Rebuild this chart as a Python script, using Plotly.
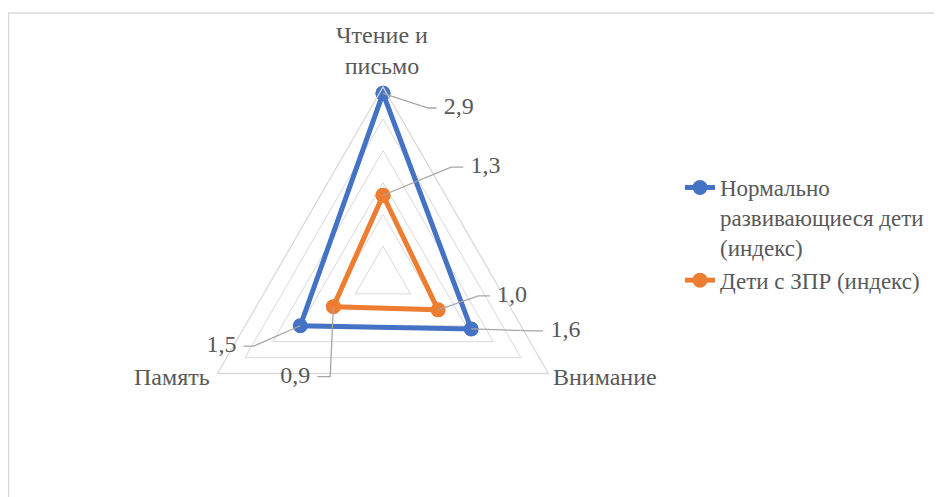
import math
import plotly.graph_objects as go

# ---- data ----
categories = ["Чтение и письмо", "Внимание", "Память"]
normal_vals = [2.9, 1.6, 1.5]
zpr_vals = [1.3, 1.0, 0.9]
series_names = ["Нормально<br>развивающиеся дети<br>(индекс)", "Дети с ЗПР (индекс)"]
radial_max = 3.0
radial_step = 0.5

# ---- style ----
W, H = 942, 497
OFF = 8  # page body margin offset of the rendered figure
FONT = "Liberation Serif"
TXT = "#595959"
GRID = "#d9d9d9"
LEAD = "#a6a6a6"
BLUE = "#4472C4"
ORANGE = "#ED7D31"
FS = 24
FS_LEG = 23

def px(x):
    return (x - OFF) / W

def py(y):
    return 1 - (y - OFF) / H

# polar domain (reference pixels)
cx, cy, R = 383.0, 278.0, 191.0
dom_x = [px(cx - R), px(cx + R)]
dom_y = [py(cy + R), py(cy - R)]

fig = go.Figure()

def closed(v):
    return list(v) + [v[0]]

for vals, name, col in [(normal_vals, series_names[0], BLUE), (zpr_vals, series_names[1], ORANGE)]:
    fig.add_trace(go.Scatterpolar(
        r=closed(vals), theta=closed(categories), mode="lines+markers", name=name,
        line=dict(color=col, width=5), marker=dict(color=col, size=15),
        subplot="polar", cliponaxis=False))

# leader lines + data labels, in an overlaid numeric polar
step_deg = 360.0 / len(categories)

def to_xy(v, idx):
    a = math.radians(idx * step_deg)
    return v * math.sin(a), v * math.cos(a)

def to_polar(x, y):
    return math.hypot(x, y), math.degrees(math.atan2(x, y)) % 360

# offsets (elbow, end) in radial units from data point; text side
leader_style = {
    ("n", 0): ([(0.71, -0.23), (0.84, -0.23)], "middle right"),
    ("n", 1): ([(1.00, -0.03), (1.13, -0.03)], "middle right"),
    ("n", 2): ([(-0.73, -0.32), (-0.89, -0.32)], "middle left"),
    ("z", 0): ([(1.07, 0.44), (1.26, 0.44)], "middle right"),
    ("z", 1): ([(0.63, 0.22), (0.81, 0.22)], "middle right"),
    ("z", 2): ([(-0.05, -1.10), (-0.25, -1.10)], "middle left"),
}

for key, vals in [("n", normal_vals), ("z", zpr_vals)]:
    for i, v in enumerate(vals):
        offs, tpos = leader_style[(key, i)]
        x0, y0 = to_xy(v, i)
        rs, ts = [], []
        for (dx, dy) in [(0, 0)] + offs:
            r_, t_ = to_polar(x0 + dx, y0 + dy)
            rs.append(r_)
            ts.append(t_)
        fig.add_trace(go.Scatterpolar(
            r=rs, theta=ts, mode="lines+markers+text",
            text=["", "", f"{v:.1f}".replace(".", ",")], textposition=tpos,
            textfont=dict(family=FONT, size=FS, color=TXT),
            line=dict(color=LEAD, width=1.3),
            marker=dict(size=10, color="rgba(0,0,0,0)"),
            showlegend=False, hoverinfo="skip", subplot="polar2", cliponaxis=False))

fig.update_layout(
    width=W, height=H,
    margin=dict(l=0, r=0, t=0, b=0),
    paper_bgcolor="white",
    font=dict(family=FONT, size=FS, color=TXT),
    polar=dict(
        domain=dict(x=dom_x, y=dom_y),
        bgcolor="rgba(0,0,0,0)",
        gridshape="linear",
        radialaxis=dict(range=[0, radial_max], dtick=radial_step, showticklabels=False,
                        ticks="", showline=False, gridcolor=GRID, gridwidth=1.3),
        angularaxis=dict(direction="clockwise", rotation=90, showticklabels=False, ticks="",
                         showgrid=False, showline=True, linecolor=GRID, linewidth=1.3),
    ),
    polar2=dict(
        domain=dict(x=dom_x, y=dom_y),
        bgcolor="rgba(0,0,0,0)",
        radialaxis=dict(range=[0, radial_max], visible=False),
        angularaxis=dict(direction="clockwise", rotation=90, visible=False),
    ),
    legend=dict(x=px(680), y=py(166), xanchor="left", yanchor="top", valign="top",
                font=dict(family=FONT, size=FS_LEG, color=TXT), tracegroupgap=0,
                bgcolor="rgba(0,0,0,0)"),
    shapes=[dict(type="rect", xref="paper", yref="paper", x0=0.6 / W, x1=1.02,
                 y0=-0.05, y1=py(13), line=dict(color=GRID, width=1.3))],
)

# category labels (reference pixels)
cat_pos = [
    dict(x=381.7, y=50, xanchor="center"),
    dict(x=551, y=377, xanchor="left"),
    dict(x=212, y=377, xanchor="right"),
]
for cat, p in zip(categories, cat_pos):
    txt = cat.replace(" письмо", "<br>письмо")
    fig.add_annotation(text=txt, xref="paper", yref="paper", x=px(p["x"]), y=py(p["y"]),
                       xanchor=p["xanchor"], yanchor="middle", showarrow=False,
                       font=dict(family=FONT, size=FS, color=TXT))

fig.write_html("out.html")
